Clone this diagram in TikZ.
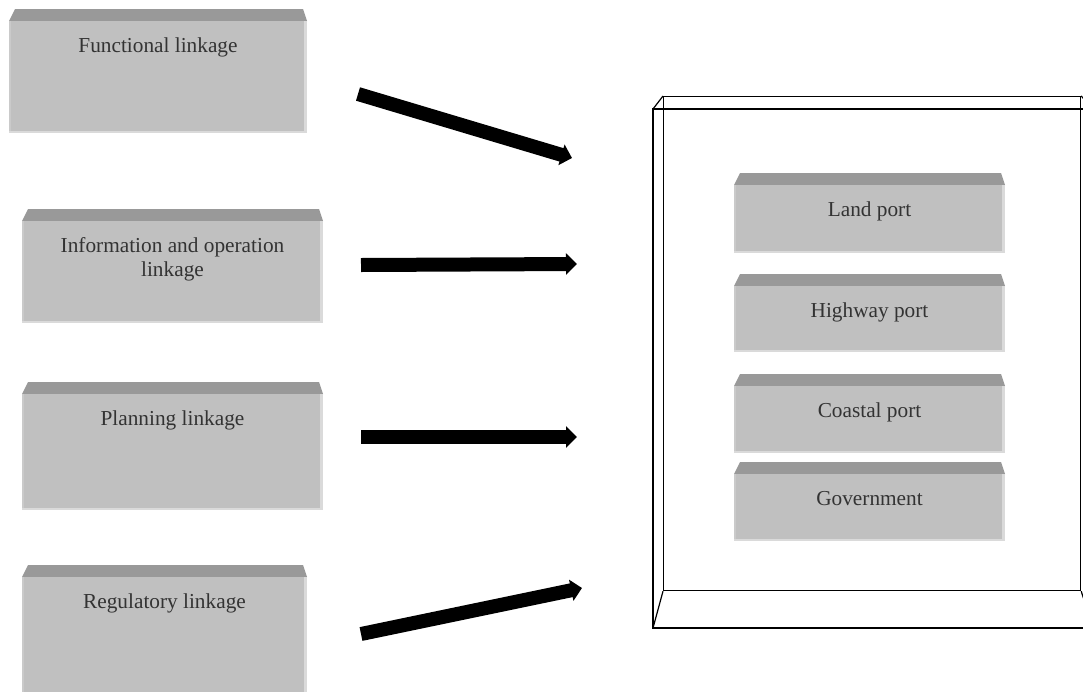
\documentclass[tikz,border=0pt]{standalone}
\usepackage{fontspec}
\setmainfont{Liberation Serif}
\usetikzlibrary{arrows.meta}
\definecolor{bodygray}{HTML}{C0C0C0}
\definecolor{bevelgray}{HTML}{999999}
\definecolor{edgegray}{HTML}{DADADA}
\definecolor{leftgray}{HTML}{CACACA}
\definecolor{txtgray}{HTML}{333333}
\tikzset{
  boxbody/.style={fill=bodygray},
  boxbevel/.style={fill=bevelgray},
  boxedge/.style={fill=edgegray},
  boxleft/.style={fill=leftgray},
  boxtext/.style={text=txtgray, font=\fontsize{21.3}{24}\selectfont, align=center, anchor=base, inner sep=0pt},
  bigarrow/.style={line width=14pt, black, -{Triangle[length=11pt,width=21pt]}},
  framepen/.style={draw=black, line width=1.2pt},
}
% [extra text offset] name, x0, top, x1, bottom, text
\newcommand{\bevbox}[7][0]{%
  \fill[boxbevel] (#3,#4+12) -- (#3+6,#4) -- (#5-4,#4) -- (#5,#4+12) -- cycle;
  \fill[boxbody] (#3,#4+12) rectangle (#5,#6);
  \fill[boxleft] (#3,#4+12) rectangle (#3+2,#6);
  \fill[boxedge] (#5-3,#4+12) rectangle (#5,#6);
  \fill[boxedge] (#3,#6-2) rectangle (#5,#6);
  \node[boxtext] (#2) at ({(#3+#5)/2},#4+43+#1) {#7};
}
\begin{document}
\begin{tikzpicture}[x=1pt,y=-1pt]
\useasboundingbox (0,0) rectangle (1083,691);
\clip (0,0) rectangle (1083,691);
\fill[white] (0,0) rectangle (1083,691);

% left boxes
\bevbox{func}{9}{9}{307}{133}{Functional linkage}
\bevbox[24]{info}{22}{209}{323}{323}{Information and operation\\linkage}
\bevbox{plan}{22}{382}{323}{510}{Planning linkage}
\bevbox{regu}{22}{565}{307}{700}{Regulatory linkage}

% frame
\node[framepen, fill=none, inner sep=0pt, anchor=north west,
      minimum width=417pt, minimum height=494pt] (panel) at (663,96) {};
\coordinate (otl) at (653,109);
\coordinate (obl) at (653,628);
\coordinate (otr) at (1093,109);
\coordinate (obr) at (1093,628);
\draw[framepen] (otr) -- (otl) -- (obl) -- (obr);
\draw[framepen] (panel.north west) -- (otl);
\draw[framepen] (panel.south west) -- (obl);
\draw[framepen] (panel.north east) -- (otr);
\draw[framepen] (panel.south east) -- (obr);

% right boxes
\bevbox{land}{734}{173}{1005}{253}{Land port}
\bevbox{high}{734}{274}{1005}{352}{Highway port}
\bevbox{coast}{734}{374}{1005}{453}{Coastal port}
\bevbox{gov}{734}{462}{1005}{541}{Government}

% arrows
\coordinate (a1s) at (358,94);
\coordinate (a1e) at (572,158);
\coordinate (a2s) at (361,265);
\coordinate (a2e) at (577,264);
\coordinate (a3s) at (361,437);
\coordinate (a3e) at (577,437);
\coordinate (a4s) at (361,634);
\coordinate (a4e) at (582,588);
\draw[bigarrow] (a1s) -- (a1e);
\draw[bigarrow] (a2s) -- (a2e);
\draw[bigarrow] (a3s) -- (a3e);
\draw[bigarrow] (a4s) -- (a4e);
\end{tikzpicture}
\end{document}
